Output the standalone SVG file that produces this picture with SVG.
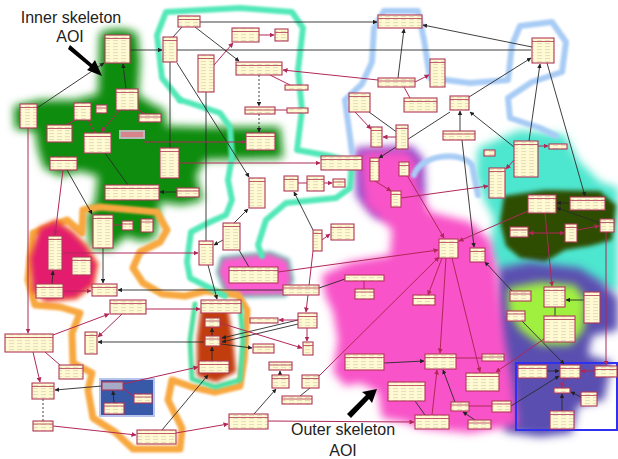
<svg xmlns="http://www.w3.org/2000/svg" width="618" height="459" viewBox="0 0 618 459">
<style>
.b{fill:url(#tx);stroke:#b2385a;stroke-width:1.1}
.h{stroke:#b2385a;stroke-width:0.8;fill:none}
.k{stroke:#2a2a2a;stroke-width:0.9;fill:none;marker-end:url(#ak)}
.k0{stroke:#2a2a2a;stroke-width:0.9;fill:none}
.r{stroke:#b02858;stroke-width:1;fill:none;marker-end:url(#ar)}
.r0{stroke:#b02858;stroke-width:1;fill:none}
.ol{fill:none;stroke-linejoin:round;stroke-linecap:round}
.lbl{font-family:"Liberation Sans",Arial,sans-serif;font-size:16px;fill:#222;text-anchor:middle}
</style>
<defs>
<pattern id="tx" width="8" height="3" patternUnits="userSpaceOnUse"><rect width="8" height="3" fill="#fffad2"/><path d="M1,1.6H6" stroke="#cfc6a8" stroke-width="0.6"/></pattern>
<marker id="ak" viewBox="0 0 10 10" refX="9" refY="5" markerWidth="5" markerHeight="5" orient="auto-start-reverse"><path d="M0,0L10,5L0,10z" fill="#222"/></marker>
<marker id="ar" viewBox="0 0 10 10" refX="9" refY="5" markerWidth="5" markerHeight="5" orient="auto-start-reverse"><path d="M0,0L10,5L0,10z" fill="#b02858"/></marker>
<filter id="bl4" x="-20%" y="-20%" width="140%" height="140%"><feGaussianBlur stdDeviation="4"/></filter>
<filter id="bl2" x="-20%" y="-20%" width="140%" height="140%"><feGaussianBlur stdDeviation="2"/></filter>
<filter id="bl1" x="-20%" y="-20%" width="140%" height="140%"><feGaussianBlur stdDeviation="1.2"/></filter>
</defs>
<rect width="618" height="459" fill="#ffffff"/>
<g id="regions">
<path filter="url(#bl4)" fill="#4de6cf" d="M478,148 L520,130 L565,135 L578,160 L600,182 L618,188 L618,292 L585,282 L560,282 L530,276 L498,272 L490,252 L494,218 L484,200 L476,175 Z"/>
<path filter="url(#bl2)" fill="#2f4d05" d="M504,196 L545,190 L600,191 L616,205 L612,240 L590,246 L565,250 L545,262 L520,258 L506,246 L500,222 Z"/>
<path filter="url(#bl4)" fill="#5a50b0" d="M498,268 L530,262 L580,268 L602,282 L618,298 L618,330 L592,336 L588,355 L612,362 L604,400 L578,406 L572,433 L540,437 L505,432 L497,390 L494,330 Z"/>
<path filter="url(#bl4)" fill="#a0f040" d="M508,288 L540,282 L575,285 L586,300 L584,330 L570,345 L540,345 L520,330 L508,310 Z"/>
<path filter="url(#bl4)" fill="#8a48c8" d="M355,148 L412,146 L424,160 L425,192 L412,218 L375,218 L356,196 Z"/>
<path filter="url(#bl4)" fill="#f852c8" d="M360,152 L405,150 L416,160 L418,185 L430,212 L470,222 L490,240 L497,270 L500,300 L505,340 L512,380 L518,425 L470,433 L420,428 L405,422 L382,418 L378,392 L360,383 L345,386 L333,372 L338,340 L333,312 L325,295 L322,275 L350,262 L390,255 L392,230 L365,205 L362,180 Z"/>
<path filter="url(#bl2)" fill="#fb5bd0" stroke="#2f9a9a" stroke-width="3" d="M222,258 L270,253 L288,260 L292,280 L285,295 L240,296 L225,290 L218,272 Z"/>
<path filter="url(#bl4)" fill="#0b8c0b" d="M100,33 C110,28 130,28 137,34 L140,60 L138,95 L152,104 L165,110 L166,126 L200,127 L280,127 L283,158 L205,160 L196,176 L203,200 L182,205 L160,202 L158,218 L155,238 L140,241 L126,236 L110,250 L90,248 L87,216 L95,202 L98,176 L80,171 L60,176 L44,168 L38,150 L35,131 L15,129 L14,106 L40,100 L75,100 L98,94 Z"/>
<path class="ol" filter="url(#bl1)" stroke="#f8a840" stroke-width="7" d="M33,233 L67,220 L82,233 L83,210 L100,207 L157,212 L167,230 L160,242 L140,252 L133,268 L143,283 L162,294 L185,296 L205,291 L238,295 L247,310 L246,330 L244,360 L240,386 L215,392 L192,387 L172,380 L168,400 L182,428 L180,449 L133,449 L115,432 L93,418 L88,390 L92,373 L73,363 L72,333 L80,313 L60,307 L35,305 L28,280 Z"/>
<path filter="url(#bl2)" fill="#e31e6e" stroke="#f05a20" stroke-width="3" d="M40,228 L56,221 L72,232 L86,246 L97,264 L93,285 L76,298 L46,301 L33,291 L30,258 Z"/>
<path class="ol" filter="url(#bl1)" stroke="#50e0a0" stroke-width="5" d="M195,304 L190,340 L192,379 L215,387 L240,380 L243,340 L240,304"/>
<path filter="url(#bl2)" fill="#c23c0c" d="M201,309 L228,309 L233,340 L236,372 L216,382 L197,376 L197,340 Z"/>
<path class="ol" filter="url(#bl1)" stroke="#52e8b8" stroke-width="6" d="M180,100 L162,78 L157,35 L166,12 L240,8 L292,12 L303,28 L298,70 L302,110 L297,150 L330,156 L352,162 L350,188 L336,198 L286,203 L266,220 L258,245 L262,256"/>
<path class="ol" filter="url(#bl1)" stroke="#52e8b8" stroke-width="6" d="M180,100 L190,103 L220,113 L230,127 L232,157 L228,180 L232,200 L226,215 L210,222 L191,232 L187,262 L190,278 L210,288 L225,296"/>
<path class="ol" filter="url(#bl1)" stroke="#a8ccf5" stroke-width="6" d="M352,152 L345,100 L362,84 L372,62 L374,28 L384,11 L418,11 L424,40 L430,78 L470,83 L508,80 L512,45 L520,26 L552,22 L566,42 L562,72 L532,82 L508,98 L510,118 L540,128 L556,136"/>
<path class="ol" filter="url(#bl1)" stroke="#a8ccf5" stroke-width="6" d="M414,175 C420,155 460,150 472,165 L478,195"/>
<rect x="100" y="379" width="54" height="37" fill="#3858a8" stroke="#b8c4ec" stroke-width="2"/>
<rect x="516" y="363" width="101" height="67" fill="none" stroke="#3030f0" stroke-width="2"/>
</g>
<g id="connectors">
<path class="k" d="M130,50H162"/>
<path class="k" d="M37,108L104,63"/>
<path class="k" d="M126,89L123,64"/>
<path class="k" d="M177,63L249,177"/>
<path class="k0" d="M182,27L173,37"/>
<path class="k" d="M200,22H377"/>
<path class="k0" d="M177,50H531"/>
<path class="k" d="M195,27L239,61"/>
<path class="k0" d="M170,62V148"/>
<path class="k0" d="M206,92V241"/>
<path class="k" d="M208,265L217,299"/>
<path class="k" stroke-dasharray="2,2" d="M259,75V106"/>
<path class="k" stroke-dasharray="2,2" d="M259,114V132"/>
<path class="k" d="M398,78L404,29"/>
<path class="k0" d="M369,112L398,133"/>
<path class="k" d="M532,47L423,25"/>
<path class="k" d="M469,97L531,58"/>
<path class="k" d="M460,131V111"/>
<path class="k" d="M450,112L379,158"/>
<path class="k" d="M514,147L470,112"/>
<path class="k" d="M529,141L540,64"/>
<path class="k" d="M547,63L585,196"/>
<path class="k" d="M570,203H557"/>
<path class="k" d="M600,223L557,208"/>
<path class="k" d="M462,140L474,247"/>
<path class="k" d="M512,291L485,262"/>
<path class="k" d="M584,300H566"/>
<path class="k" d="M177,192H160"/>
<path class="k0" d="M105,153L128,185"/>
<path class="k" d="M67,170L92,214"/>
<path class="k" d="M103,248V283"/>
<path class="k" d="M52,284L53,271"/>
<path class="k" d="M283,290H118"/>
<path class="k" d="M234,223L248,209"/>
<path class="k" d="M223,240L214,245"/>
<path class="k" d="M313,230L294,192"/>
<path class="k0" d="M249,267L239,250"/>
<path class="k0" d="M319,288L345,279"/>
<path class="k" d="M204,342H98"/>
<path class="k" d="M212,336V328"/>
<path class="k" d="M212,361V347"/>
<path class="k" d="M114,403L113,391"/>
<path class="k" d="M102,386L55,390"/>
<path class="k" d="M162,430L208,375"/>
<path class="k" d="M298,320L222,338"/>
<path class="k" d="M298,324L222,342"/>
<path class="k" d="M221,344L252,348"/>
<path class="k" d="M280,375V371"/>
<path class="k" d="M254,414L276,389"/>
<path class="k0" d="M300,396L310,388"/>
<path class="k" d="M384,363L424,361"/>
<path class="k" d="M475,420L463,412"/>
<path class="k" d="M455,402L443,370"/>
<path class="k0" d="M415,401L425,415"/>
<path class="k" d="M547,371H559"/>
<path class="k" d="M581,397L571,392"/>
<path class="k" d="M562,411V394"/>
<path class="k" d="M511,406L559,376"/>
<path class="k" d="M522,321L564,364"/>
<path class="k0" d="M555,307V316"/>
<path class="r" d="M120,110L101,132"/>
<path class="r0" d="M135,108L145,114"/>
<path class="r0" d="M76,120L65,125"/>
<path class="r0" d="M88,120L95,133"/>
<path class="r" d="M28,128V333"/>
<path class="r" d="M143,142H245"/>
<path class="r" d="M214,65L233,43"/>
<path class="r" d="M259,35H274"/>
<path class="r" d="M378,80L283,70"/>
<path class="r0" d="M270,75L290,85"/>
<path class="r0" d="M275,110H287"/>
<path class="r0" d="M404,87L410,98"/>
<path class="r" d="M415,82L429,75"/>
<path class="r" d="M355,112L371,129"/>
<path class="r" d="M396,137H383"/>
<path class="r" d="M538,146H548"/>
<path class="r" d="M180,163H320"/>
<path class="r" d="M63,170L55,235"/>
<path class="r0" d="M113,225H122"/>
<path class="r" d="M62,253H198"/>
<path class="r" d="M63,291H91"/>
<path class="r0" d="M298,183H307"/>
<path class="r" d="M324,183H332"/>
<path class="r" d="M322,240L330,234"/>
<path class="r" d="M313,251L306,312"/>
<path class="r" d="M278,272L438,250"/>
<path class="r0" d="M364,281V289"/>
<path class="r" d="M375,181L391,191"/>
<path class="r" d="M514,160L506,169"/>
<path class="r" d="M401,198L488,186"/>
<path class="r" d="M404,170L444,238"/>
<path class="r" d="M528,211L459,241"/>
<path class="r" d="M545,213L552,286"/>
<path class="r" marker-start="url(#ar)" d="M529,233H564"/>
<path class="r" d="M577,230L599,226"/>
<path class="r" d="M606,232V365"/>
<path class="r" d="M446,258L440,353"/>
<path class="r" d="M452,258L480,372"/>
<path class="r" d="M442,258L428,295"/>
<path class="r" d="M319,376L439,257"/>
<path class="r0" d="M456,358H482"/>
<path class="r" d="M544,339L496,372"/>
<path class="r" d="M432,415L437,370"/>
<path class="r0" d="M469,406H492"/>
<path class="r" d="M595,371H581"/>
<path class="r" d="M565,378L561,387"/>
<path class="r" d="M146,309L200,309"/>
<path class="r" d="M53,335L109,314"/>
<path class="r" d="M122,314L98,337"/>
<path class="r0" d="M45,352L60,365"/>
<path class="r" d="M33,352L40,382"/>
<path class="k0" stroke-dasharray="2,2" d="M43,399V421"/>
<path class="r" d="M53,426L136,435"/>
<path class="r0" d="M123,388L134,397"/>
<path class="r" d="M123,384L198,367"/>
<path class="r" d="M176,433L228,424"/>
<path class="r" d="M268,421L414,422"/>
<path class="r" d="M298,320H279"/>
<path class="r" d="M307,328V341"/>
<path class="r" d="M220,323L302,348"/>
</g>
<g id="nodes">
<g id="n-A"><rect class="b" x="105" y="35" width="25" height="28"/><path class="h" d="M105,38.5h25"/></g>
<g id="n-B"><rect class="b" x="116" y="89" width="22" height="21"/><path class="h" d="M116,92.5h22"/></g>
<g id="n-C"><rect class="b" x="74" y="103" width="17" height="17"/><path class="h" d="M74,106.5h17"/></g>
<g id="n-D"><rect class="b" x="96" y="105" width="11" height="8"/><path class="h" d="M96,108h11"/></g>
<g id="n-E"><rect class="b" x="20" y="104" width="17" height="24"/><path class="h" d="M20,107.5h17"/></g>
<g id="n-F"><rect class="b" x="47" y="125" width="25" height="17"/><path class="h" d="M47,128.5h25"/></g>
<g id="n-G"><rect class="b" x="84" y="133" width="27" height="20"/><path class="h" d="M84,136.5h27"/></g>
<g id="n-H"><rect class="b" x="139" y="114" width="22" height="8"/><path class="h" d="M139,117h22"/></g>
<g id="n-I"><rect x="120" y="131" width="24" height="7" fill="#d8848c" stroke="#b8b8b8" stroke-width="2"/></g>
<g id="n-J"><rect class="b" x="163" y="37" width="14" height="25"/><path class="h" d="M163,40.5h14"/></g>
<g id="n-K"><rect class="b" x="178" y="16" width="22" height="11"/><path class="h" d="M178,19.5h22"/></g>
<g id="n-L"><rect class="b" x="198" y="55" width="16" height="37"/><path class="h" d="M198,58.5h16"/></g>
<g id="n-M"><rect class="b" x="160" y="148" width="19" height="30"/><path class="h" d="M160,151.5h19"/></g>
<g id="n-K1"><rect class="b" x="232" y="28" width="27" height="14"/><path class="h" d="M232,31.5h27"/></g>
<g id="n-K2"><rect class="b" x="275" y="29" width="13" height="12"/><path class="h" d="M275,32.5h13"/></g>
<g id="n-M1"><rect class="b" x="236" y="62" width="46" height="13"/><path class="h" d="M236,65.5h46"/></g>
<g id="n-M1r"><rect class="b" x="285" y="85" width="23" height="5"/></g>
<g id="n-M2"><rect class="b" x="245" y="107" width="30" height="7"/><path class="h" d="M245,110h30"/></g>
<g id="n-M2r"><rect class="b" x="287" y="108" width="21" height="5"/></g>
<g id="n-M3"><rect class="b" x="246" y="133" width="29" height="17"/><path class="h" d="M246,136.5h29"/></g>
<g id="n-N"><rect class="b" x="378" y="78" width="37" height="9"/><path class="h" d="M378,81h37"/></g>
<g id="n-R"><rect class="b" x="378" y="15" width="44" height="13"/><path class="h" d="M378,18.5h44"/></g>
<g id="n-O"><rect class="b" x="349" y="93" width="21" height="19"/><path class="h" d="M349,96.5h21"/></g>
<g id="n-P"><rect class="b" x="371" y="127" width="11" height="20"/><path class="h" d="M371,130.5h11"/></g>
<g id="n-Q"><rect class="b" x="396" y="125" width="12" height="24"/><path class="h" d="M396,128.5h12"/></g>
<g id="n-U"><rect class="b" x="404" y="98" width="33" height="14"/><path class="h" d="M404,101.5h33"/></g>
<g id="n-S"><rect class="b" x="532" y="38" width="22" height="25"/><path class="h" d="M532,41.5h22"/></g>
<g id="n-T"><rect class="b" x="430" y="59" width="15" height="28"/><path class="h" d="M430,62.5h15"/></g>
<g id="n-V"><rect class="b" x="450" y="96" width="19" height="14"/><path class="h" d="M450,99.5h19"/></g>
<g id="n-W"><rect class="b" x="443" y="131" width="32" height="9"/><path class="h" d="M443,134h32"/></g>
<g id="n-X"><rect class="b" x="514" y="141" width="24" height="36"/><path class="h" d="M514,144.5h24"/></g>
<g id="n-Y"><rect class="b" x="549" y="144" width="18" height="5"/></g>
<g id="n-Z"><rect class="b" x="484" y="150" width="11" height="6"/></g>
<g id="n-AA"><rect class="b" x="50" y="157" width="27" height="13"/><path class="h" d="M50,160.5h27"/></g>
<g id="n-AB"><rect class="b" x="93" y="215" width="20" height="33"/><path class="h" d="M93,218.5h20"/></g>
<g id="n-AC"><rect class="b" x="105" y="185" width="54" height="15"/><path class="h" d="M105,188.5h54"/></g>
<g id="n-AE"><rect class="b" x="177" y="188" width="22" height="9"/><path class="h" d="M177,191h22"/></g>
<g id="n-AF"><rect class="b" x="122" y="221" width="11" height="9"/><path class="h" d="M122,224h11"/></g>
<g id="n-AG"><rect class="b" x="141" y="219" width="12" height="13"/><path class="h" d="M141,222h12"/></g>
<g id="n-AH"><rect class="b" x="48" y="236" width="14" height="34"/><path class="h" d="M48,239.5h14"/></g>
<g id="n-AI"><rect class="b" x="72" y="257" width="19" height="18"/><path class="h" d="M72,260.5h19"/></g>
<g id="n-AJ"><rect class="b" x="36" y="284" width="27" height="14"/><path class="h" d="M36,287.5h27"/></g>
<g id="n-AK"><rect class="b" x="92" y="284" width="25" height="12"/><path class="h" d="M92,287.5h25"/></g>
<g id="n-AL"><rect class="b" x="199" y="241" width="14" height="24"/><path class="h" d="M199,244.5h14"/></g>
<g id="n-BA"><rect class="b" x="321" y="156" width="41" height="14"/><path class="h" d="M321,159.5h41"/></g>
<g id="n-BB"><rect class="b" x="249" y="178" width="16" height="30"/><path class="h" d="M249,181.5h16"/></g>
<g id="n-BC"><rect class="b" x="223" y="223" width="17" height="27"/><path class="h" d="M223,226.5h17"/></g>
<g id="n-BD"><rect class="b" x="284" y="176" width="14" height="15"/><path class="h" d="M284,179.5h14"/></g>
<g id="n-BE"><rect class="b" x="307" y="176" width="17" height="15"/><path class="h" d="M307,179.5h17"/></g>
<g id="n-BF"><rect class="b" x="333" y="179" width="12" height="8"/><path class="h" d="M333,182h12"/></g>
<g id="n-BG"><rect class="b" x="313" y="230" width="9" height="21"/><path class="h" d="M313,233.5h9"/></g>
<g id="n-BH"><rect class="b" x="331" y="224" width="23" height="16"/><path class="h" d="M331,227.5h23"/></g>
<g id="n-BI"><rect class="b" x="229" y="267" width="49" height="16"/><path class="h" d="M229,270.5h49"/></g>
<g id="n-BJ"><rect class="b" x="283" y="285" width="36" height="10"/><path class="h" d="M283,288h36"/></g>
<g id="n-BK"><rect class="b" x="345" y="275" width="39" height="6"/></g>
<g id="n-BL"><rect class="b" x="355" y="289" width="19" height="10"/><path class="h" d="M355,292h19"/></g>
<g id="n-BM"><rect class="b" x="370" y="158" width="9" height="23"/><path class="h" d="M370,161.5h9"/></g>
<g id="n-BN"><rect class="b" x="399" y="162" width="10" height="14"/><path class="h" d="M399,165.5h10"/></g>
<g id="n-BO"><rect class="b" x="391" y="191" width="10" height="16"/><path class="h" d="M391,194.5h10"/></g>
<g id="n-CC"><rect class="b" x="489" y="168" width="16" height="30"/><path class="h" d="M489,171.5h16"/></g>
<g id="n-CD"><rect class="b" x="528" y="195" width="28" height="18"/><path class="h" d="M528,198.5h28"/></g>
<g id="n-CE"><rect class="b" x="570" y="197" width="35" height="13"/><path class="h" d="M570,200.5h35"/></g>
<g id="n-CF"><rect class="b" x="510" y="227" width="18" height="10"/><path class="h" d="M510,230h18"/></g>
<g id="n-CG"><rect class="b" x="565" y="224" width="12" height="18"/><path class="h" d="M565,227.5h12"/></g>
<g id="n-CH"><rect class="b" x="600" y="219" width="14" height="13"/><path class="h" d="M600,222.5h14"/></g>
<g id="n-CI"><rect class="b" x="439" y="239" width="19" height="19"/><path class="h" d="M439,242.5h19"/></g>
<g id="n-CJ"><rect class="b" x="470" y="248" width="15" height="14"/><path class="h" d="M470,251.5h15"/></g>
<g id="n-CK"><rect class="b" x="510" y="291" width="21" height="10"/><path class="h" d="M510,294h21"/></g>
<g id="n-CL"><rect class="b" x="544" y="287" width="21" height="20"/><path class="h" d="M544,290.5h21"/></g>
<g id="n-CM"><rect class="b" x="584" y="292" width="16" height="31"/><path class="h" d="M584,295.5h16"/></g>
<g id="n-CN"><rect class="b" x="413" y="295" width="22" height="10"/><path class="h" d="M413,298.5h22"/></g>
<g id="n-DA"><rect class="b" x="110" y="300" width="36" height="14"/><path class="h" d="M110,303.5h36"/></g>
<g id="n-DB"><rect class="b" x="5" y="334" width="48" height="18"/><path class="h" d="M5,337.5h48"/></g>
<g id="n-DC"><rect class="b" x="85" y="332" width="12" height="22"/><path class="h" d="M85,335.5h12"/></g>
<g id="n-DD"><rect class="b" x="59" y="365" width="24" height="14"/><path class="h" d="M59,368.5h24"/></g>
<g id="n-DE"><rect class="b" x="32" y="383" width="22" height="16"/><path class="h" d="M32,386.5h22"/></g>
<g id="n-DF"><rect class="b" x="33" y="421" width="20" height="10"/><path class="h" d="M33,424h20"/></g>
<g id="n-DG"><rect class="b" x="137" y="430" width="39" height="14"/><path class="h" d="M137,433.5h39"/></g>
<g id="n-DH"><rect x="102" y="382" width="21" height="8" fill="#a4acc8" stroke="#b2385a" stroke-width="1.1"/></g>
<g id="n-DI"><rect class="b" x="104" y="403" width="20" height="11"/><path class="h" d="M104,406h20"/></g>
<g id="n-DJ"><rect class="b" x="134" y="394" width="18" height="9"/><path class="h" d="M134,397h18"/></g>
<g id="n-RA"><rect class="b" x="201" y="300" width="40" height="13"/><path class="h" d="M201,303.5h40"/></g>
<g id="n-R1"><rect class="b" x="205" y="318" width="15" height="9"/><path class="h" d="M205,321h15"/></g>
<g id="n-R2"><rect class="b" x="205" y="336" width="15" height="10"/><path class="h" d="M205,339h15"/></g>
<g id="n-R3"><rect class="b" x="199" y="361" width="30" height="12"/><path class="h" d="M199,364.5h30"/></g>
<g id="n-EA"><rect class="b" x="250" y="318" width="28" height="5"/></g>
<g id="n-EB"><rect class="b" x="298" y="313" width="19" height="15"/><path class="h" d="M298,316.5h19"/></g>
<g id="n-EC"><rect class="b" x="303" y="342" width="10" height="13"/><path class="h" d="M303,345.5h10"/></g>
<g id="n-ED"><rect class="b" x="253" y="344" width="21" height="9"/><path class="h" d="M253,347h21"/></g>
<g id="n-EE"><rect class="b" x="269" y="362" width="23" height="8"/><path class="h" d="M269,365h23"/></g>
<g id="n-EF"><rect class="b" x="272" y="375" width="17" height="13"/><path class="h" d="M272,378.5h17"/></g>
<g id="n-EG"><rect class="b" x="302" y="375" width="17" height="13"/><path class="h" d="M302,378.5h17"/></g>
<g id="n-EH"><rect class="b" x="282" y="396" width="30" height="8"/><path class="h" d="M282,399h30"/></g>
<g id="n-EI"><rect class="b" x="229" y="414" width="39" height="15"/><path class="h" d="M229,417.5h39"/></g>
<g id="n-EJ"><rect class="b" x="345" y="354" width="39" height="16"/><path class="h" d="M345,357.5h39"/></g>
<g id="n-EK"><rect class="b" x="388" y="382" width="37" height="19"/><path class="h" d="M388,385.5h37"/></g>
<g id="n-FA"><rect class="b" x="507" y="311" width="18" height="10"/><path class="h" d="M507,314h18"/></g>
<g id="n-FB"><rect class="b" x="544" y="316" width="31" height="26"/><path class="h" d="M544,319.5h31"/></g>
<g id="n-FD"><rect class="b" x="425" y="354" width="31" height="15"/><path class="h" d="M425,357.5h31"/></g>
<g id="n-FE"><rect class="b" x="482" y="354" width="22" height="7"/><path class="h" d="M482,357h22"/></g>
<g id="n-FF"><rect class="b" x="466" y="373" width="33" height="18"/><path class="h" d="M466,376.5h33"/></g>
<g id="n-FH"><rect class="b" x="415" y="415" width="34" height="14"/><path class="h" d="M415,418.5h34"/></g>
<g id="n-FI"><rect class="b" x="451" y="402" width="18" height="9"/><path class="h" d="M451,405h18"/></g>
<g id="n-FJ"><rect class="b" x="468" y="420" width="23" height="9"/><path class="h" d="M468,423h23"/></g>
<g id="n-FK"><rect class="b" x="492" y="401" width="19" height="11"/><path class="h" d="M492,404h19"/></g>
<g id="n-FL"><rect class="b" x="518" y="365" width="29" height="13"/><path class="h" d="M518,368.5h29"/></g>
<g id="n-FM"><rect class="b" x="560" y="365" width="20" height="13"/><path class="h" d="M560,368.5h20"/></g>
<g id="n-FN"><rect class="b" x="595" y="366" width="22" height="11"/><path class="h" d="M595,369.5h22"/></g>
<g id="n-FO"><rect class="b" x="554" y="388" width="16" height="5"/></g>
<g id="n-FP"><rect class="b" x="581" y="392" width="16" height="14"/><path class="h" d="M581,395.5h16"/></g>
<g id="n-FQ"><rect class="b" x="550" y="411" width="24" height="18"/><path class="h" d="M550,414.5h24"/></g>
</g>
<g id="labels">
<text class="lbl" x="71" y="23">Inner skeleton</text>
<text class="lbl" x="70" y="42">AOI</text>
<path d="M70,45 L92,64 L95,60 L102,76 L87,70 L90,67 L68,49 Z" fill="#000"/>
<text class="lbl" x="343" y="435">Outer skeleton</text>
<text class="lbl" x="343" y="456">AOI</text>
<path d="M347,414 L366,395 L362,392 L377,389 L372,403 L369,399 L351,418 Z" fill="#000"/>
</g>
</svg>
